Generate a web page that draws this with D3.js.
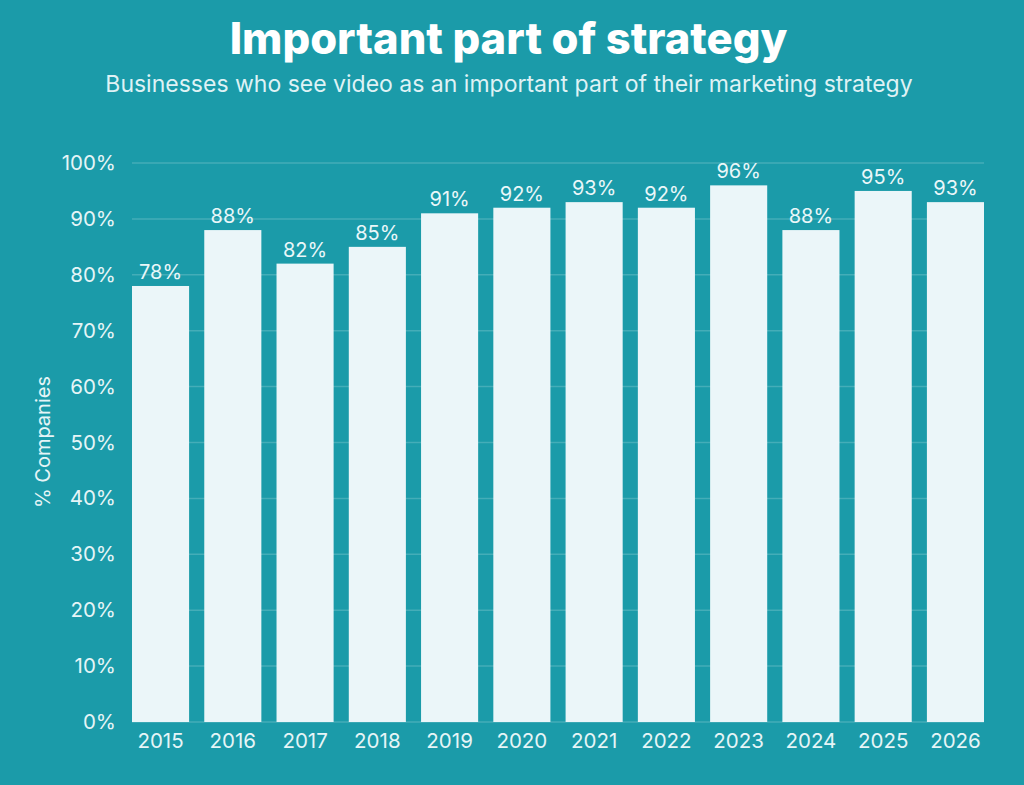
<!DOCTYPE html>
<html><head><meta charset="utf-8">
<script src="https://cdn.jsdelivr.net/npm/d3@7/dist/d3.min.js"></script>
<style>html,body{margin:0;padding:0;background:#1b9ba9;}svg{display:block;}</style>
</head><body>
<script>
const years = ["2015","2016","2017","2018","2019","2020","2021","2022","2023","2024","2025","2026"];
const values = [78,88,82,85,91,92,93,92,96,88,95,93];
const yTicks = [0,10,20,30,40,50,60,70,80,90,100];
const title = "Important part of strategy";
const subtitle = "Businesses who see video as an important part of their marketing strategy";
const yLabel = "% Companies";

const W=1024,H=785;
const m={left:132,right:40,top:163,bottom:63};
const svg=d3.select("body").append("svg").attr("width",W).attr("height",H);
svg.append("rect").attr("width",W).attr("height",H).attr("fill","#1b9ba9");
const font="Inter, 'Noto Sans', sans-serif";

const x=d3.scaleBand().domain(years).range([m.left,W-m.right]).paddingInner(0.21).paddingOuter(0);
const y=d3.scaleLinear().domain([0,100]).range([H-m.bottom,m.top]);

// gridlines
svg.append("g").selectAll("line").data(yTicks).join("line")
 .attr("x1",m.left).attr("x2",W-m.right)
 .attr("y1",d=>y(d)).attr("y2",d=>y(d))
 .attr("stroke","rgba(255,255,255,0.18)").attr("stroke-width",1.5);

// y axis ticks
const ya=svg.append("g").attr("transform",`translate(${m.left},0)`)
 .call(d3.axisLeft(y).tickValues(yTicks).tickFormat(d=>d+"%").tickSize(0).tickPadding(16));
ya.select(".domain").remove();
ya.selectAll("text").attr("font-family",font).attr("font-size",20.5).attr("fill","#e6f5f7");

// x axis
const xa=svg.append("g").attr("transform",`translate(0,${H-m.bottom})`)
 .call(d3.axisBottom(x).tickSize(0).tickPadding(11));
xa.select(".domain").remove();
xa.selectAll("text").attr("font-family",font).attr("font-size",20.5).attr("fill","#e6f5f7");

// bars
svg.append("g").selectAll("rect").data(values).join("rect")
 .attr("x",(d,i)=>x(years[i])).attr("width",x.bandwidth())
 .attr("y",d=>y(d)).attr("height",d=>y(0)-y(d))
 .attr("fill","#ebf6f9");

// value labels
svg.append("g").selectAll("text").data(values).join("text")
 .attr("x",(d,i)=>x(years[i])+x.bandwidth()/2).attr("y",d=>y(d)-7)
 .attr("text-anchor","middle").attr("font-family",font).attr("font-size",20)
 .attr("fill","#eaf7f9").text(d=>d+"%");

// titles
svg.append("text").attr("x",508.5).attr("y",54).attr("text-anchor","middle")
 .attr("font-family",font).attr("font-weight",800).attr("font-size",43.5).attr("fill","#ffffff").text(title);
svg.append("text").attr("x",509).attr("y",92).attr("text-anchor","middle")
 .attr("font-family",font).attr("font-size",23).attr("fill","#dff2f5").text(subtitle);

// y label
svg.append("text").attr("transform",`translate(50,442) rotate(-90)`).attr("text-anchor","middle")
 .attr("font-family",font).attr("font-size",20).attr("fill","#e6f5f7").text(yLabel);
</script>
</body></html>
